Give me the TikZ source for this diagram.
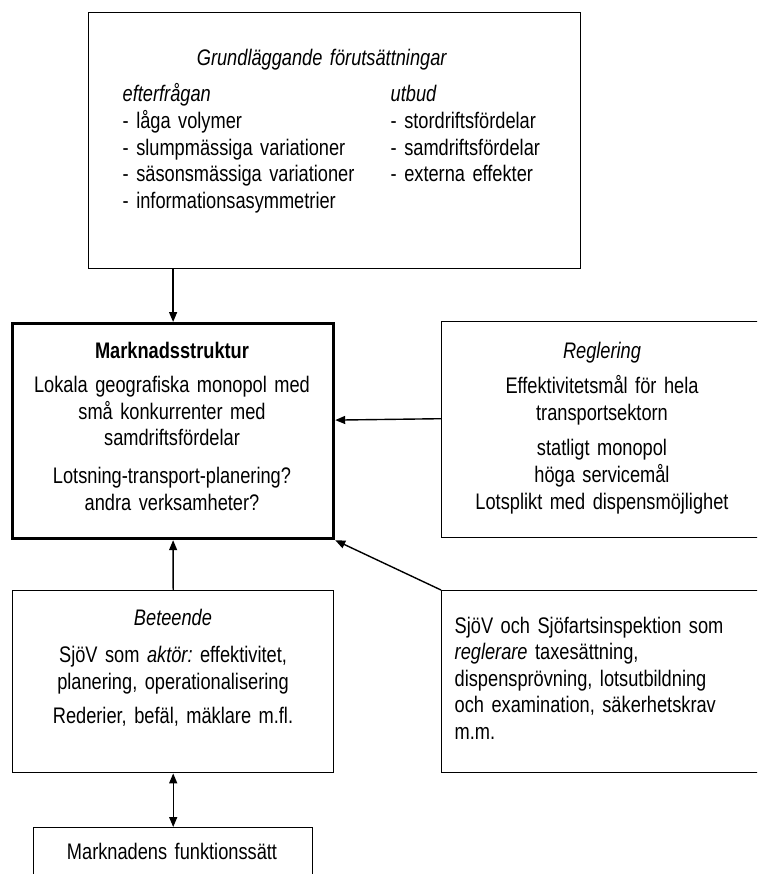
\documentclass[tikz,border=0pt]{standalone}
\usepackage{fontspec}
\setmainfont[FakeStretch=0.81, WordSpace=0.8]{Liberation Sans}
\frenchspacing
\usetikzlibrary{arrows.meta}
\tikzset{
	box/.style={draw=black, line width=1.4pt, inner sep=0pt, anchor=north west},
	mainbox/.style={box, line width=3.2pt},
	txt/.style={font=\fontsize{22.5}{26.6}\selectfont, inner sep=0pt, anchor=base, text width=#1, align=center},
	txt/.default=320pt,
	leftcol/.style={txt=#1, align=left, anchor=base west},
	leftcol/.default=300pt
}
\begin{document}
\begin{tikzpicture}[x=1pt, y=-1pt, line width=1.4pt, >={Triangle[length=10pt, width=8pt]}]
	\useasboundingbox (0,0) rectangle (757,874);
	\clip (0,0) rectangle (757,874);
	% boxes
	\node[box, minimum width=492pt, minimum height=256pt] (grund) at (88,12) {};
	\node[mainbox, minimum width=321pt, minimum height=215pt] (markn) at (11,322) {};
	\node[box, minimum width=324pt, minimum height=216pt] (regl) at (441,321) {};
	\node[box, minimum width=321pt, minimum height=182pt] (beteende) at (12,590) {};
	\node[box, minimum width=324pt, minimum height=182pt] (sjov) at (441,590) {};
	\node[box, minimum width=279pt, minimum height=70pt] (funk) at (33,827) {};
	% texts
	\node[txt=300pt] (grund-t) at (322,66) {\textit{Grundläggande förutsättningar}};
	\node[leftcol=240pt] (efter) at (122,102) {\textit{efterfrågan}\\- låga volymer\\- slumpmässiga variationer\\- säsonsmässiga variationer\\- informationsasymmetrier};
	\node[leftcol=180pt] (utbud) at (390,102) {\textit{utbud}\\- stordriftsfördelar\\- samdriftsfördelar\\- externa effekter};
	\node[txt] (markn-t) at (172,358) {\textbf{Marknadsstruktur}\\[8pt]Lokala geografiska monopol med\\små konkurrenter med\\samdriftsfördelar\\[11pt]Lotsning-transport-planering?\\andra verksamheter?};
	\node[txt] (regl-t) at (602,358) {\textit{Reglering}\\[9pt]Effektivitetsmål för hela\\transportsektorn\\[9pt]statligt monopol\\höga servicemål\\Lotsplikt med dispensmöjlighet};
	\node[txt] (beteende-t) at (173,625) {\textit{Beteende}\\[11pt]SjöV som \textit{aktör:} effektivitet,\\planering, operationalisering\\[8pt]Rederier, befäl, mäklare m.fl.};
	\node[leftcol] (sjov-t) at (454,633) {SjöV och Sjöfartsinspektion som\\\textit{reglerare} taxesättning,\\dispensprövning, lotsutbildning\\och examination, säkerhetskrav\\m.m.};
	\node[txt=300pt] (funk-t) at (172,859) {Marknadens funktionssätt};
	% arrows
	\draw[->] (grund.south -| markn.north) -- (markn.north);
	\draw[->] ([yshift=11pt]regl.west) -- ([yshift=11pt]markn.east);
	\draw[->] (beteende.north) -- (markn.south);
	\draw[->] (sjov.north west) -- (markn.south east);
	\draw[<->] (beteende.south) -- (funk.north);
\end{tikzpicture}
\end{document}
